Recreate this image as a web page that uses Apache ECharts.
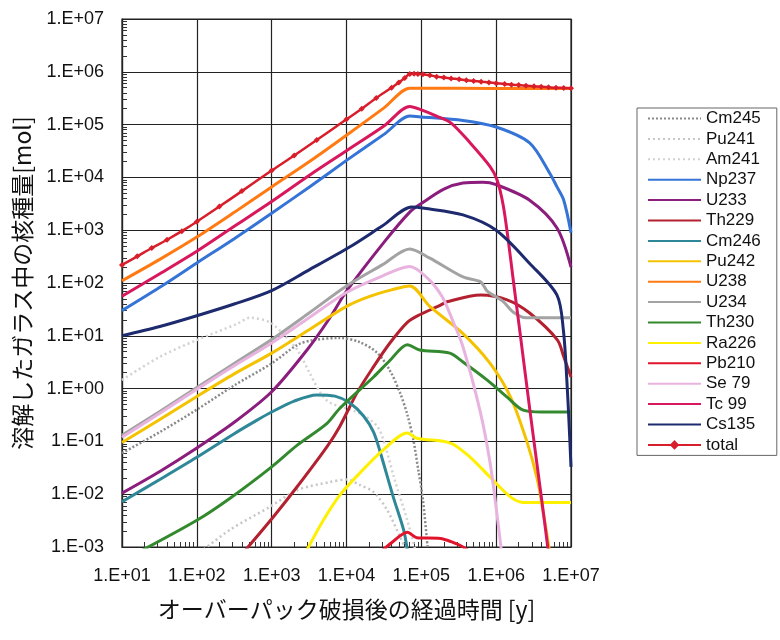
<!DOCTYPE html>
<html><head><meta charset="utf-8">
<script src="https://cdn.jsdelivr.net/npm/echarts@6/dist/echarts.min.js"></script>
<style>html,body{margin:0;padding:0;background:#fff}#c{width:780px;height:640px}</style>
</head><body><div id="c"></div>
<script>
// ---- tick labels ----
const xTickLabels = ['1.E+01','1.E+02','1.E+03','1.E+04','1.E+05','1.E+06','1.E+07'];
const yTickLabels = ['1.E-03','1.E-02','1.E-01','1.E+00','1.E+01','1.E+02','1.E+03','1.E+04','1.E+05','1.E+06','1.E+07'];
const xTitle = 'オーバーパック破損後の経過時間 [y]';
const yTitle = '溶解したガラス中の核種量[mol]';
const seriesNames = ['Cm245','Pu241','Am241','Np237','U233','Th229','Cm246','Pu242','U238','U234','Th230','Ra226','Pb210','Se 79','Tc 99','Cs135','total'];

// ---- data: [time (y), amount (mol)] ----
const Cm245 = [[10,0.06],[32,0.15],[100,0.4],[316,1.15],[1000,3.0],[2200,6.7],[3600,8.3],[8100,9.1],[15000,7.6],[26000,4.7],[38000,2.2],[52000,0.83],[65000,0.32],[78000,0.11],[91000,0.029],[105000,0.0079],[123000,0.00078]];
const Pu241 = [[110,0.00079],[275,0.0021],[955,0.0058],[2200,0.012],[6000,0.017],[10000,0.019],[15000,0.015],[23000,0.011],[35000,0.005],[52000,0.00155],[65000,0.00079]];
const Am241 = [[10,1.45],[32,4],[100,8.3],[350,17],[510,22],[950,18],[1400,11],[2200,5.4],[3200,2.0],[4500,0.83],[6000,0.54],[15000,0.34],[26000,0.19],[34000,0.07],[43000,0.021],[65000,0.0032],[83000,0.00087]];
const Np237 = [[10,30],[32,83],[100,240],[320,700],[1000,2100],[3200,6600],[10000,21000],[32000,66000],[70000,145000],[100000,140000],[360000,120000],[1000000,90000],[2800000,45000],[5200000,12000],[6500000,6600],[8000000,3700],[10000000,900]];
const U233 = [[10,0.0105],[32,0.027],[100,0.075],[316,0.23],[1000,0.87],[3000,5.5],[6000,22],[10000,70],[32000,600],[70000,2200],[100000,3200],[200000,6000],[360000,7800],[670000,8100],[1000000,7300],[2800000,3700],[6500000,1100],[10000000,200]];
const Th229 = [[417,0.00078],[1050,0.0037],[2200,0.014],[5500,0.08],[8100,0.19],[13800,0.83],[23000,2.6],[38000,7.3],[65000,18],[95000,25],[180000,38],[220000,44],[620000,59],[1400000,48],[2800000,27],[6600000,8.3],[8000000,4.0],[10000000,1.66]];
const Cm246 = [[10,0.0072],[32,0.019],[100,0.05],[316,0.14],[630,0.25],[1000,0.36],[2000,0.58],[4000,0.76],[7000,0.72],[11000,0.54],[17000,0.3],[23000,0.15],[28000,0.065],[42000,0.009],[58000,0.0021],[65000,0.00087]];
const Pu242 = [[10,0.095],[32,0.26],[100,0.71],[316,1.9],[1000,4.7],[3160,13],[10000,36],[20000,55],[40000,74],[70000,88],[130000,36],[360000,11],[830000,3.0],[1550000,0.7],[2570000,0.1],[3550000,0.019],[4270000,0.0044],[5200000,0.0008]];
const U238 = [[10,110],[32,280],[100,740],[320,2200],[1000,6600],[3200,20000],[10000,63000],[32000,210000],[70000,490000],[100000,490000],[1000000,485000],[10000000,485000]];
const U234 = [[10,0.13],[32,0.37],[100,1.05],[316,3.0],[1000,8.5],[3160,27],[10000,88],[30000,220],[70000,440],[130000,295],[360000,130],[620000,105],[760000,70],[1230000,45],[1700000,28],[2500000,22],[10000000,22]];
const Th230 = [[17,0.00081],[100,0.0032],[275,0.0083],[1000,0.033],[2200,0.085],[5500,0.22],[8100,0.42],[23000,1.66],[38000,3.4],[65000,6.8],[95000,5.4],[240000,4.7],[360000,3.2],[760000,1.45],[1400000,0.69],[2300000,0.39],[4000000,0.36],[10000000,0.36]];
const Ra226 = [[2950,0.00087],[4900,0.0032],[8100,0.0095],[15000,0.025],[31000,0.069],[65000,0.145],[87000,0.115],[245000,0.093],[450000,0.05],[830000,0.021],[1550000,0.0089],[2300000,0.007],[10000000,0.007]];
const Pb210 = [[28000,0.00078],[40000,0.0012],[65000,0.0019],[87000,0.0015],[180000,0.00145],[250000,0.00126],[360000,0.001],[560000,0.00065]];
const Se79 = [[10,0.12],[32,0.34],[100,0.97],[316,2.7],[1000,7.3],[3160,22],[10000,66],[30000,135],[70000,205],[120000,125],[190000,55],[260000,20],[360000,6.2],[620000,0.34],[830000,0.039],[1020000,0.0044],[1200000,0.00066]];
const Tc99 = [[10,56],[32,150],[100,400],[320,1200],[1000,3500],[3200,11000],[10000,32000],[32000,95000],[70000,220000],[100000,190000],[160000,145000],[250000,107000],[450000,45000],[830000,16000],[1030000,8900],[1240000,3000],[1450000,650],[1690000,115],[2100000,10.5],[2850000,0.35],[3900000,0.012],[4950000,0.00087],[5500000,0.0002]];
const Cs135 = [[10,10],[32,15],[100,24],[316,40],[1000,72],[3000,170],[11000,480],[30000,1200],[75000,2750],[110000,2600],[360000,1950],[1000000,1000],[2800000,235],[6500000,59],[7900000,13],[8800000,1.45],[9500000,0.17],[10000000,0.033]];
const total = [[10,220],[16,320],[25,460],[40,660],[63,960],[100,1450],[200,2800],[400,5500],[1000,13500],[2000,26000],[4000,51000],[10000,126000],[16000,200000],[25000,320000],[40000,500000],[50000,630000],[60000,760000],[70000,910000],[80000,915000],[90000,910000],[105000,900000],[130000,860000],[160000,810000],[200000,780000],[250000,750000],[320000,720000],[400000,690000],[500000,670000],[630000,650000],[800000,630000],[1000000,610000],[1300000,590000],[1600000,570000],[2000000,560000],[2500000,545000],[3200000,530000],[4000000,520000],[5000000,510000],[6300000,500000],[8000000,495000],[10000000,490000]];

const seriesData = [Cm245,Pu241,Am241,Np237,U233,Th229,Cm246,Pu242,U238,U234,Th230,Ra226,Pb210,Se79,Tc99,Cs135,total];
const styles = [
  {color:'#8a8a8a', width:2.5, type:[2,2]},
  {color:'#c6c6c6', width:2.5, type:[2,3]},
  {color:'#d2d2d2', width:2.5, type:[2,3]},
  {color:'#3574d6', width:3},
  {color:'#8b1d7d', width:3},
  {color:'#b3202f', width:3},
  {color:'#2f8898', width:3},
  {color:'#f5c200', width:3},
  {color:'#ff7a12', width:3},
  {color:'#a3a3a3', width:3},
  {color:'#338a2e', width:3},
  {color:'#fff000', width:3},
  {color:'#e0152b', width:3},
  {color:'#e9b3df', width:3},
  {color:'#d8175c', width:3},
  {color:'#1d2a6e', width:3},
  {color:'#d81e2a', width:2.5}
];

const minorX = [], minorY = [];
for (let e = 1; e < 7; e++) for (let m = 2; m <= 9; m++) minorX.push(+(m * Math.pow(10, e)).toPrecision(3));
for (let e = -3; e < 7; e++) for (let m = 2; m <= 9; m++) minorY.push(+(m * Math.pow(10, e)).toPrecision(3));

const font = "'Liberation Sans', Arial, sans-serif";
const cjk = "'Noto Sans CJK JP', 'Liberation Sans', sans-serif";

const series = seriesNames.map((n, i) => {
  const st = styles[i];
  const isTotal = n === 'total';
  return {
    name: n, type: 'line', data: seriesData[i], smooth: 0.3,
    symbol: isTotal ? 'diamond' : 'none', symbolSize: 6, showSymbol: isTotal,
    itemStyle: {color: st.color},
    lineStyle: {color: st.color, width: st.width, type: st.type || 'solid'},
    clip: true, z: isTotal ? 5 : 3, animation: false
  };
});

const chart = echarts.init(document.getElementById('c'), null, {renderer: 'canvas'});
chart.setOption({
  animation: false,
  backgroundColor: '#fff',
  grid: {left: 122, right: 209, top: 19, bottom: 93, show: true, borderColor: '#222', borderWidth: 1.2},
  legend: {
    orient: 'vertical', left: 637, top: 108,
    padding: [2, 16, 2, 10], itemGap: 3.4, itemWidth: 53, itemHeight: 12,
    borderColor: '#666', borderWidth: 1,
    textStyle: {fontFamily: font, fontSize: 17, color: '#111', lineHeight: 17},
    data: seriesNames.map(n => ({name: n, itemStyle: n === 'total' ? {} : {opacity: 0}}))
  },
  xAxis: [{
    type: 'log', logBase: 10, min: 10, max: 1e7, interval: 1,
    name: xTitle, nameLocation: 'middle', nameGap: 51,
    nameTextStyle: {fontFamily: cjk, fontSize: 23, color: '#111'},
    axisLine: {lineStyle: {color: '#222', width: 1.2}},
    axisTick: {show: false},
    axisLabel: {fontFamily: font, fontSize: 18, color: '#111', margin: 20,
      formatter: v => xTickLabels[Math.round(Math.log10(v)) - 1]},
    splitLine: {show: true, lineStyle: {color: '#222', width: 1.2}}
  }, {
    type: 'log', logBase: 10, min: 10, max: 1e7, position: 'bottom',
    axisLine: {show: false}, axisLabel: {show: false}, splitLine: {show: false},
    axisTick: {show: true, inside: true, length: 5, customValues: minorX, lineStyle: {color: '#333', width: 1}}
  }],
  yAxis: [{
    type: 'log', logBase: 10, min: 1e-3, max: 1e7, interval: 1,
    name: yTitle, nameLocation: 'middle', nameGap: 88,
    nameTextStyle: {fontFamily: cjk, fontSize: 23, color: '#111'},
    axisLine: {lineStyle: {color: '#222', width: 1.2}},
    axisTick: {show: false},
    axisLabel: {fontFamily: font, fontSize: 18, color: '#111', margin: 18,
      formatter: v => yTickLabels[Math.round(Math.log10(v)) + 3]},
    splitLine: {show: true, lineStyle: {color: '#222', width: 1.2}}
  }, {
    type: 'log', logBase: 10, min: 1e-3, max: 1e7, position: 'left',
    axisLine: {show: false}, axisLabel: {show: false}, splitLine: {show: false},
    axisTick: {show: true, inside: true, length: 5, customValues: minorY, lineStyle: {color: '#333', width: 1}}
  }],
  series: series
});
</script></body></html>
